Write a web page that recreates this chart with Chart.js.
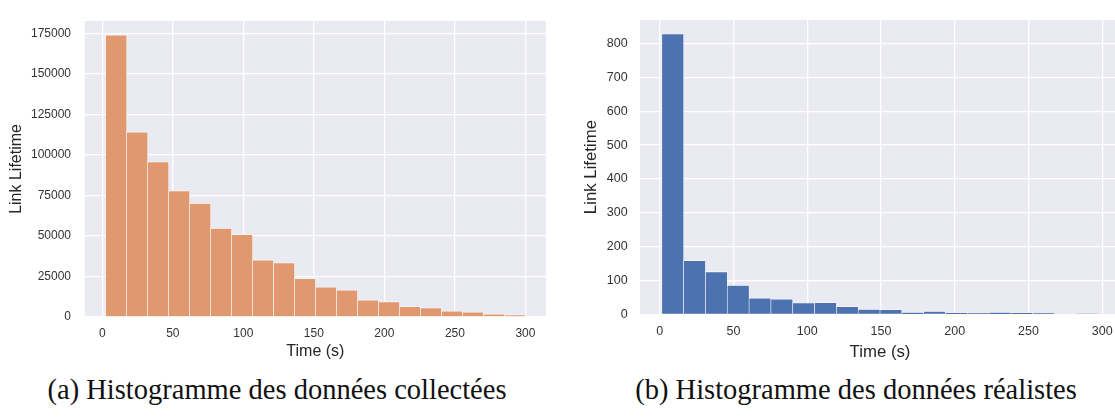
<!DOCTYPE html>
<html>
<head>
<meta charset="utf-8">
<script src="https://cdn.jsdelivr.net/npm/chart.js@4.4.1/dist/chart.umd.min.js"></script>
<style>
  body { margin: 0; background: #fff; overflow: hidden; width: 1115px; height: 417px; position: relative; }
  canvas { position: absolute; top: 0; }
  #chartA { left: 0; }
  #chartB { left: 557px; }
  .caption {
    position: absolute; top: 376px; transform: translateX(-50%);
    font-family: "Liberation Serif", serif; font-size: 28.5px; line-height: 1;
    color: #111; white-space: nowrap;
  }
</style>
</head>
<body>
<canvas id="chartA" width="557" height="365"></canvas>
<canvas id="chartB" width="570" height="365"></canvas>
<div class="caption" style="left:277px">(a) Histogramme des données collectées</div>
<div class="caption" style="left:856px">(b) Histogramme des données réalistes</div>
<script>
// bin centres (s) and counts
const binsCollected = [9.84, 24.72, 39.60, 54.48, 69.36, 84.24, 99.12, 114.00, 128.88, 143.76,
  158.64, 173.52, 188.40, 203.28, 218.16, 233.04, 247.92, 262.80, 277.68, 292.56];
const countsCollected = [174000, 114200, 95700, 77900, 70200, 54800, 50900, 35100, 33500, 23700,
  18450, 16600, 10450, 9400, 6500, 5700, 3650, 3050, 1800, 1400];

const binsRealistic = [8.80, 23.59, 38.38, 53.17, 67.96, 82.75, 97.54, 112.33, 127.12, 141.91,
  156.70, 171.49, 186.28, 201.07, 215.86, 230.65, 245.44, 260.23, 275.02, 289.81];
const countsRealistic = [829, 159, 126, 86, 48, 45, 34, 35, 23, 15,
  14, 6, 9, 4, 3, 6, 4, 3, 0, 1];

const timeTicks = [0, 50, 100, 150, 200, 250, 300];
const collectedTicks = [0, 25000, 50000, 75000, 100000, 125000, 150000, 175000];
const realisticTicks = [0, 100, 200, 300, 400, 500, 600, 700, 800];

const xLabel = 'Time (s)';
const yLabel = 'Link Lifetime';

const plotBg = {
  id: 'plotBg',
  beforeDraw(chart) {
    const { ctx, chartArea: a } = chart;
    ctx.save();
    ctx.fillStyle = '#EAEAF2';
    ctx.fillRect(a.left, a.top, a.right - a.left, a.bottom - a.top);
    ctx.restore();
  }
};

// plain numbers, no thousands separator
const plain = v => String(v);

function histChart(id, bins, counts, color, o) {
  return new Chart(document.getElementById(id), {
    type: 'bar',
    data: {
      datasets: [{
        data: bins.map((b, i) => ({ x: b, y: counts[i] })),
        backgroundColor: color,
        borderColor: 'rgba(255,255,255,0.85)',
        borderWidth: { top: 0.8, left: 0.6, right: 0.6, bottom: 0 },
        barPercentage: 1,
        categoryPercentage: 1
      }]
    },
    options: {
      responsive: false,
      animation: false,
      layout: { padding: { left: 0, right: o.padRight, top: o.padTop, bottom: 0 } },
      plugins: { legend: { display: false }, tooltip: { enabled: false } },
      scales: {
        x: {
          type: 'linear',
          offset: false,
          min: o.xMin, max: o.xMax,
          afterBuildTicks: s => { s.ticks = timeTicks.map(v => ({ value: v })); },
          afterFit: s => { s.height = o.xAxisH; },
          grid: { color: '#ffffff', lineWidth: 1.3, drawTicks: false, offset: false },
          border: { display: false },
          ticks: { padding: 9.7, color: '#333', callback: plain,
            font: { family: 'Liberation Sans', size: o.tickSize }, maxRotation: 0 },
          title: { display: true, text: xLabel, color: '#262626',
            font: { family: 'Liberation Sans', size: o.labelSize }, padding: { top: 0, bottom: o.xTitlePad } }
        },
        y: {
          min: 0, max: o.yMax,
          afterBuildTicks: s => { s.ticks = o.yTicks.map(v => ({ value: v })); },
          afterFit: s => { s.width = o.yAxisW; },
          grid: { color: '#ffffff', lineWidth: 1.3, drawTicks: false },
          border: { display: false },
          ticks: { padding: o.yTickPad, color: '#333', callback: plain,
            font: { family: 'Liberation Sans', size: o.tickSize } },
          title: { display: true, text: yLabel, color: '#262626',
            font: { family: 'Liberation Sans', size: o.labelSize }, padding: { top: o.yTitlePad, bottom: 0 } }
        }
      }
    },
    plugins: [plotBg]
  });
}

histChart('chartA', binsCollected, countsCollected, '#E0986F', {
  xMin: -12.5, xMax: 314.6, yMax: 182700, yTicks: collectedTicks,
  padRight: 11, padTop: 16, xAxisH: 48, yAxisW: 84.7,
  tickSize: 12, labelSize: 16, xTitlePad: 3.4, yTickPad: 13.7, yTitlePad: 6.7
});

histChart('chartB', binsRealistic, countsRealistic, '#4C72B0', {
  xMin: -13.4, xMax: 312, yMax: 870.5, yTicks: realisticTicks,
  padRight: 7, padTop: 3.3, xAxisH: 50.7, yAxisW: 83,
  tickSize: 12.5, labelSize: 16.8, xTitlePad: 2.9, yTickPad: 12.3, yTitlePad: 24.7
});
</script>
</body>
</html>
